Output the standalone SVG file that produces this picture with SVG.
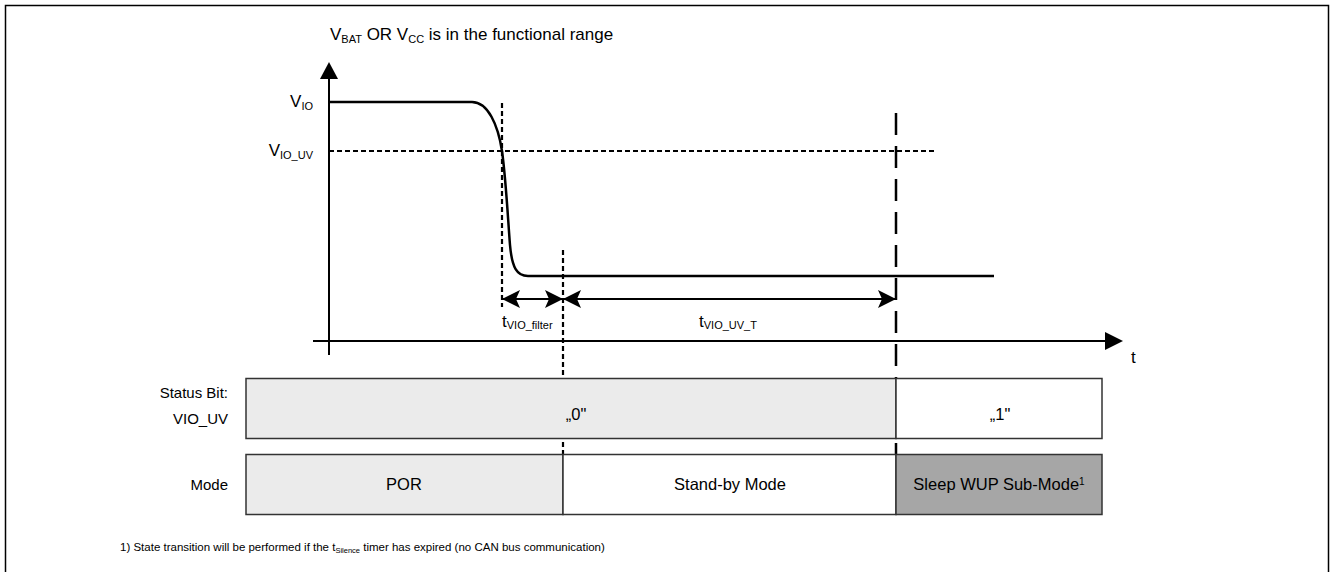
<svg xmlns="http://www.w3.org/2000/svg" width="1331" height="572" viewBox="0 0 1331 572">
<style>
text{font-family:"Liberation Sans",Arial,sans-serif;fill:#000}
.t16{font-size:17px}
.lab{font-size:15px}
.btx{font-size:16.5px}
.sub{font-size:11px}
.axis{stroke:#000;stroke-width:2;fill:none}
.curve{stroke:#000;stroke-width:2.5;fill:none}
.dot{stroke:#000;stroke-width:2.2;stroke-dasharray:5,3;fill:none}
.ldash{stroke:#000;stroke-width:2.5;stroke-dasharray:22,11;fill:none}
.dim{stroke:#000;stroke-width:2;fill:none}
.box{stroke:#333;stroke-width:1.5}
</style>
<defs>
<marker id="dimh" markerUnits="userSpaceOnUse" markerWidth="20" markerHeight="18" viewBox="0 0 20 18" refX="18" refY="9" orient="auto-start-reverse">
<path d="M0,0 L18,9 L0,18 L4,9 Z" fill="#000"/>
</marker>
</defs>
<rect x="5.5" y="5.5" width="1323" height="620" fill="none" stroke="#000" stroke-width="1.5"/>

<g id="title">
<text x="330" y="40" class="t16">V<tspan class="sub" dy="3">BAT</tspan><tspan dy="-3"> OR V</tspan><tspan class="sub" dy="3">CC</tspan><tspan dy="-3"> is in the functional range</tspan></text>
</g>

<g id="axes">
<line class="axis" x1="329" y1="78" x2="329" y2="355"/>
<path d="M329,62 L320,79 L338,79 Z" fill="#000"/>
<line class="axis" x1="313" y1="341" x2="1107" y2="341"/>
<path d="M1123,341 L1105,332 L1105,350 Z" fill="#000"/>
<text x="1131" y="363" class="t16">t</text>
<text x="313" y="107" class="t16" text-anchor="end">V<tspan class="sub" dy="3">IO</tspan></text>
<text x="313" y="156" class="t16" text-anchor="end">V<tspan class="sub" dy="3">IO_UV</tspan></text>
</g>

<g id="signal">
<path class="curve" d="M329,102 H472 C488,102 498,125 502,151 C506,180 508,220 510,245 C512,268 517,276 528,276 H994"/>
<line class="dot" x1="329" y1="151" x2="934" y2="151"/>
</g>

<g id="connectors">
<line class="dot" x1="502" y1="103" x2="502" y2="307"/>
<line class="dot" x1="563" y1="250" x2="563" y2="514"/>
<line class="ldash" x1="896" y1="113" x2="896" y2="470"/>
<line class="dim" x1="502" y1="299" x2="563" y2="299" marker-start="url(#dimh)" marker-end="url(#dimh)"/>
<line class="dim" x1="563" y1="299" x2="896" y2="299" marker-start="url(#dimh)" marker-end="url(#dimh)"/>
<text x="502" y="327" class="t16">t<tspan class="sub" dy="2">VIO_filter</tspan></text>
<text x="699" y="327" class="t16">t<tspan class="sub" dy="2">VIO_UV_T</tspan></text>
</g>

<g id="status">
<text x="228" y="398" class="lab" text-anchor="end">Status Bit:</text>
<text x="228" y="424" class="lab" text-anchor="end">VIO_UV</text>
<rect class="box" x="246" y="378.5" width="650" height="60" fill="#ebebeb"/>
<rect class="box" x="896" y="378.5" width="206" height="60" fill="#fff"/>
<text x="576" y="420" class="btx" text-anchor="middle">„0"</text>
<text x="1000" y="420" class="btx" text-anchor="middle">„1"</text>
</g>

<g id="mode">
<text x="228" y="490" class="lab" text-anchor="end">Mode</text>
<rect class="box" x="246" y="454.5" width="317" height="60" fill="#ebebeb"/>
<rect class="box" x="563" y="454.5" width="333" height="60" fill="#fff"/>
<rect class="box" x="896" y="454.5" width="206" height="60" fill="#a6a6a6"/>
<text x="404" y="490" class="btx" text-anchor="middle">POR</text>
<text x="730" y="490" class="btx" text-anchor="middle">Stand-by Mode</text>
<text x="999" y="490" class="btx" text-anchor="middle">Sleep WUP Sub-Mode<tspan font-size="10" dy="-5">1</tspan></text>
</g>

<g id="footnote">
<text x="120" y="551" font-size="11.5">1) State transition will be performed if the t<tspan font-size="7.5" dy="1.5">Silence</tspan><tspan dy="-1.5"> timer has expired (no CAN bus communication)</tspan></text>
</g>
</svg>
